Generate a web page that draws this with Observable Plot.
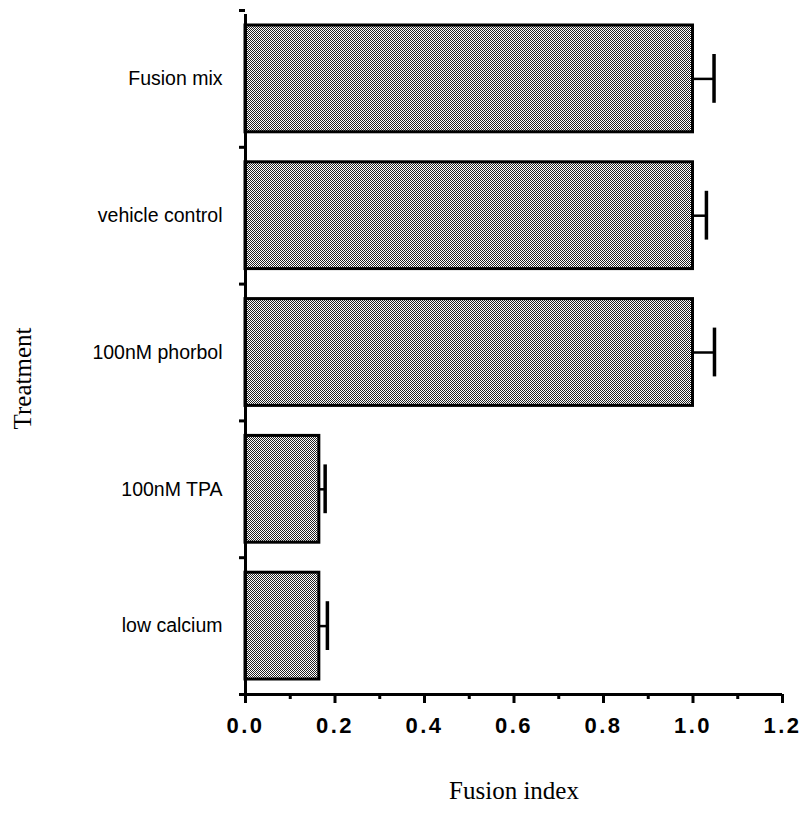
<!DOCTYPE html>
<html>
<head>
<meta charset="utf-8">
<script src="https://cdn.jsdelivr.net/npm/d3@7"></script>
<script src="https://cdn.jsdelivr.net/npm/@observablehq/plot@0.6"></script>
<style>
  html, body { margin: 0; padding: 0; background: #fff; }
  #chart { width: 805px; height: 829px; }
</style>
</head>
<body>
<div id="chart"></div>
<script>
const categories = ["Fusion mix", "vehicle control", "100nM phorbol", "100nM TPA", "low calcium"];
const fusionIndex = [1.0, 1.0, 1.0, 0.165, 0.165];
const errorTop = [1.047, 1.03, 1.048, 0.178, 0.183];
const majorTicks = [0, 0.2, 0.4, 0.6, 0.8, 1.0, 1.2];
const minorTicks = [0.1, 0.3, 0.5, 0.7, 0.9, 1.1];

const data = categories.map((c, i) => ({cat: c, i, value: fusionIndex[i], hi: errorTop[i]}));
const bounds = d3.range(categories.length + 1);
const centers = categories.map((c, i) => i + 0.5);

const plot = Plot.plot({
  width: 805,
  height: 829,
  marginLeft: 245,
  marginRight: 23,
  marginTop: 10,
  marginBottom: 135,
  style: {fontFamily: "'Liberation Sans', Arial, sans-serif", background: "#fff", color: "#000"},
  x: {domain: [0, 1.2]},
  y: {domain: [categories.length, 0]},
  marks: [
    Plot.rect(data, {x1: 0, x2: "value", y1: "i", y2: d => d.i + 1, insetTop: 15, insetBottom: 15,
      fill: "url(#stipple)", stroke: "#000", strokeWidth: 3, ariaLabel: "bars"}),
    Plot.ruleY(data, {y: d => d.i + 0.5, x1: "value", x2: "hi", stroke: "#000", strokeWidth: 2.5}),
    Plot.ruleX(data, {x: "hi", y1: "i", y2: d => d.i + 1, insetTop: 44, insetBottom: 44, stroke: "#000", strokeWidth: 3.5}),
    Plot.ruleY([categories.length], {x1: 0, x2: 1.2, stroke: "#000", strokeWidth: 3}),
    Plot.ruleX([0], {y1: categories.length, y2: 0, insetBottom: -4, stroke: "#000", strokeWidth: 3}),
    Plot.axisX({ticks: majorTicks, tickSize: 9, strokeWidth: 3, tickPadding: 14, fontSize: 22,
      tickFormat: d => d.toFixed(1), label: null}),
    Plot.axisX({ticks: minorTicks, tickSize: 5, strokeWidth: 3, tickFormat: () => "", label: null}),
    Plot.axisY({ticks: bounds, tickSize: 6, strokeWidth: 3, tickFormat: () => "", label: null}),
    Plot.axisY({ticks: centers, tickSize: 0, tickPadding: 23, fontSize: 19.5,
      tickFormat: v => categories[Math.floor(v)], label: null}),
    Plot.text(["Fusion index"], {frameAnchor: "bottom", dy: 104, fontSize: 25, fontFamily: "'Liberation Serif', 'Times New Roman', serif", text: d => d}),
    Plot.text(["Treatment"], {frameAnchor: "left", textAnchor: "middle", dx: -223, dy: 26, rotate: -90, fontSize: 25, fontFamily: "'Liberation Serif', 'Times New Roman', serif", text: d => d})
  ]
});

const ns = "http://www.w3.org/2000/svg";
const defs = document.createElementNS(ns, "defs");
const pat = document.createElementNS(ns, "pattern");
pat.setAttribute("id", "stipple");
pat.setAttribute("patternUnits", "userSpaceOnUse");
pat.setAttribute("width", "2");
pat.setAttribute("height", "2");
const bg = document.createElementNS(ns, "rect");
bg.setAttribute("width", "2"); bg.setAttribute("height", "2"); bg.setAttribute("fill", "#fff");
pat.appendChild(bg);
for (const [x, y] of [[0, 0], [1, 1]]) {
  const r = document.createElementNS(ns, "rect");
  r.setAttribute("x", x); r.setAttribute("y", y);
  r.setAttribute("width", "1"); r.setAttribute("height", "1"); r.setAttribute("fill", "#222");
  pat.appendChild(r);
}
defs.appendChild(pat);
plot.insertBefore(defs, plot.firstChild);
plot.querySelectorAll("text").forEach(t => {
  if (/^\d\.\d$/.test(t.textContent)) {
    t.setAttribute("letter-spacing", "2.5");
    t.style.fontSize = "22px";
    t.style.fontWeight = "bold";
  }
});
document.getElementById("chart").appendChild(plot);
// align the stipple pattern to the device pixel grid
const bar = plot.querySelector("[aria-label='bars'] rect");
if (bar) {
  const m = bar.getCTM();
  const ox = m.e - Math.round(m.e), oy = m.f - Math.round(m.f);
  pat.setAttribute("patternTransform", `translate(${-ox},${-oy})`);
}
</script>
</body>
</html>
